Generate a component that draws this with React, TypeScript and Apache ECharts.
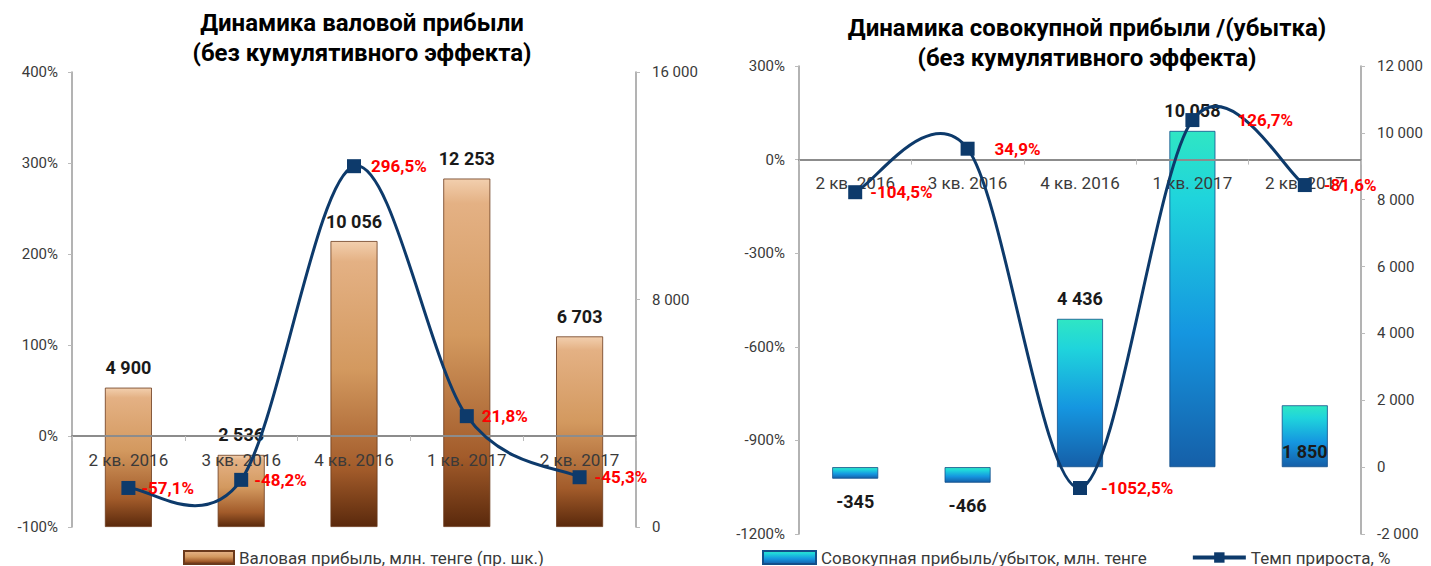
import React, { useEffect, useRef } from 'react';
import * as echarts from 'echarts';

const categories = ['2 кв. 2016', '3 кв. 2016', '4 кв. 2016', '1 кв. 2017', '2 кв. 2017'];
const grossProfit = [4900, 2536, 10056, 12253, 6703];
const grossGrowth = [-57.1, -48.2, 296.5, 21.8, -45.3];
const totalProfit = [-345, -466, 4436, 10058, 1850];
const totalGrowth = [-104.5, 34.9, -1052.5, 126.7, -81.6];
const leftTitle = ['Динамика валовой прибыли', '(без кумулятивного эффекта)'];
const rightTitle = ['Динамика совокупной прибыли /(убытка)', '(без кумулятивного эффекта)'];
const grossName = 'Валовая прибыль, млн. тенге (пр. шк.)';
const totalName = 'Совокупная прибыль/убыток, млн. тенге';
const growthName = 'Темп прироста, %';

const FONT = 'Roboto, "Noto Sans", sans-serif';
const NAVY = '#0d3a6b';
const AXIS_GRAY = '#9a9a9a';
const TEXT_GRAY = '#3a3a3a';

const LEFT_PCT = { min: -100, max: 400, interval: 100 };
const LEFT_VAL = { min: 0, max: 16000, interval: 8000 };
const RIGHT_PCT = { min: -1200, max: 300, interval: 300 };
const RIGHT_VAL = { min: -2000, max: 12000, interval: 2000 };

const GRID_L = { left: 72, top: 72, width: 564, height: 455 };
const GRID_R = { left: 799, top: 66, width: 562, height: 468 };

const fmtNum = (v: number) => {
  const s = String(Math.abs(v)).replace(/\B(?=(\d{3})+(?!\d))/g, ' ');
  return (v < 0 ? '-' : '') + s;
};
const fmtPct = (v: number) => v.toFixed(1).replace('.', ',') + '%';

const bronze = {
  type: 'linear', x: 0, y: 0, x2: 0, y2: 1,
  colorStops: [
    { offset: 0, color: '#f2cfae' },
    { offset: 0.07, color: '#e4b184' },
    { offset: 0.45, color: '#d3995f' },
    { offset: 0.8, color: '#a25b2a' },
    { offset: 1, color: '#5a290c' },
  ],
};
const teal = {
  type: 'linear', x: 0, y: 0, x2: 0, y2: 1,
  colorStops: [
    { offset: 0, color: '#2fe6c4' },
    { offset: 0.2, color: '#1fd4dc' },
    { offset: 0.6, color: '#1596e0' },
    { offset: 1, color: '#155fa8' },
  ],
};

function curveSeries(xi: number, yi: number, values: number[]) {
  const n = values.length;
  return {
    type: 'custom',
    xAxisIndex: xi,
    yAxisIndex: yi,
    z: 4,
    silent: true,
    data: values.map((v, i) => [i, v]),
    renderItem: (params: any, api: any) => {
      const i = params.dataIndex;
      if (i >= n - 1) return { type: 'group', children: [] };
      const P = (k: number) => {
        const kk = Math.max(0, Math.min(n - 1, k));
        return api.coord([kk, values[kk]]);
      };
      const p0 = P(i - 1), p1 = P(i), p2 = P(i + 1), p3 = P(i + 2);
      const t = 1 / 6;
      return {
        type: 'bezierCurve',
        shape: {
          x1: p1[0], y1: p1[1],
          x2: p2[0], y2: p2[1],
          cpx1: p1[0] + (p2[0] - p0[0]) * t,
          cpy1: p1[1] + (p2[1] - p0[1]) * t,
          cpx2: p2[0] - (p3[0] - p1[0]) * t,
          cpy2: p2[1] - (p3[1] - p1[1]) * t,
        },
        style: { stroke: NAVY, lineWidth: 3, fill: 'none' },
      };
    },
  };
}

function markerSeries(name: string, xi: number, yi: number, values: number[], distances: number[]) {
  return {
    name,
    type: 'line',
    xAxisIndex: xi,
    yAxisIndex: yi,
    z: 5,
    symbol: 'rect',
    symbolSize: 14,
    lineStyle: { opacity: 0, width: 3, color: NAVY },
    itemStyle: { color: NAVY },
    data: values.map((v, i) => ({
      value: v,
      label: { distance: distances[i] },
    })),
    label: {
      show: true,
      position: 'right',
      color: '#ff0000',
      fontWeight: 'bold',
      fontSize: 17,
      fontFamily: FONT,
      formatter: (p: any) => fmtPct(p.value),
    },
  };
}

export default function App() {
  const ref = useRef<HTMLDivElement>(null);
  useEffect(() => {
    if (!ref.current) return;
    const chart = echarts.init(ref.current, undefined, { renderer: 'svg' });

    const yLabel = { fontSize: 15, color: TEXT_GRAY, fontFamily: FONT };
    const yLine = { show: true, lineStyle: { color: AXIS_GRAY, width: 1.5 } };
    const yTick = { show: true, length: 4, lineStyle: { color: '#bbbbbb' } };

    // place the category axis on the 0 % level of the percentage axis
    const zeroOffset = (pct: { min: number; max: number }, h: number) =>
      -((0 - pct.min) / (pct.max - pct.min)) * h;

    const xAxisBase = (gridIndex: number, offset: number) => ({
      type: 'category',
      gridIndex,
      data: categories,
      position: 'bottom',
      offset,
      z: 3,
      axisLine: { onZero: false, lineStyle: { color: '#8c8c8c', width: 2 } },
      axisTick: { show: true, length: 5, lineStyle: { color: '#bbbbbb' } },
      axisLabel: { fontSize: 17, color: TEXT_GRAY, fontFamily: FONT, margin: 15 },
      splitLine: { show: false },
    });

    const barLabel = {
      show: true,
      position: 'top',
      distance: 11,
      fontSize: 18,
      fontWeight: 'bold',
      color: '#1a1a1a',
      fontFamily: FONT,
      formatter: (p: any) => fmtNum(p.value),
    };

    const titleText = (x: number, y: number, text: string) => ({
      type: 'text',
      x,
      y,
      style: {
        text,
        textAlign: 'center',
        textVerticalAlign: 'middle',
        fontSize: 24,
        fontWeight: 'bold',
        fontFamily: FONT,
        fill: '#000',
      },
    });

    chart.setOption({
      animation: false,
      backgroundColor: '#ffffff',
      graphic: [
        titleText(362, 23, leftTitle[0]),
        titleText(362, 53, leftTitle[1]),
        titleText(1087, 28, rightTitle[0]),
        titleText(1087, 58, rightTitle[1]),
      ],
      grid: [GRID_L, GRID_R],
      xAxis: [
        xAxisBase(0, zeroOffset(LEFT_PCT, GRID_L.height)),
        xAxisBase(1, zeroOffset(RIGHT_PCT, GRID_R.height)),
      ],
      yAxis: [
        {
          type: 'value', gridIndex: 0, position: 'left', ...LEFT_PCT,
          axisLine: yLine, axisTick: yTick, splitLine: { show: false },
          axisLabel: { ...yLabel, margin: 14, formatter: (v: number) => v + '%' },
        },
        {
          type: 'value', gridIndex: 0, position: 'right', ...LEFT_VAL,
          axisLine: yLine, axisTick: yTick, splitLine: { show: false },
          axisLabel: { ...yLabel, margin: 16, formatter: (v: number) => fmtNum(v) },
        },
        {
          type: 'value', gridIndex: 1, position: 'left', ...RIGHT_PCT,
          axisLine: yLine, axisTick: yTick, splitLine: { show: false },
          axisLabel: { ...yLabel, margin: 14, formatter: (v: number) => v + '%' },
        },
        {
          type: 'value', gridIndex: 1, position: 'right', ...RIGHT_VAL,
          axisLine: yLine, axisTick: yTick, splitLine: { show: false },
          axisLabel: { ...yLabel, margin: 16, formatter: (v: number) => fmtNum(v) },
        },
      ],
      legend: [
        {
          left: 183, top: 549, padding: 0, itemWidth: 50, itemHeight: 13,
          icon: 'rect', selectedMode: false,
          textStyle: { fontSize: 17, color: TEXT_GRAY, fontFamily: FONT },
          data: [grossName],
        },
        {
          left: 762, top: 549, padding: 0, itemWidth: 53, itemHeight: 13, itemGap: 44,
          selectedMode: false,
          textStyle: { fontSize: 17, color: TEXT_GRAY, fontFamily: FONT },
          data: [
            { name: totalName, icon: 'rect' },
            { name: growthName, lineStyle: { opacity: 1, width: 4, color: NAVY } },
          ],
        },
      ],
      series: [
        {
          name: grossName,
          type: 'bar',
          xAxisIndex: 0,
          yAxisIndex: 1,
          barWidth: 47,
          z: 2,
          itemStyle: { color: bronze, borderColor: '#6b3a1c', borderWidth: 0.8 },
          label: barLabel,
          data: grossProfit,
        },
        curveSeries(0, 0, grossGrowth),
        markerSeries('gross-growth', 0, 0, grossGrowth, [6, 6, 10, 8, 8]),
        {
          name: totalName,
          type: 'bar',
          xAxisIndex: 1,
          yAxisIndex: 3,
          barWidth: 46,
          z: 2,
          itemStyle: { color: teal, borderColor: '#134f8a', borderWidth: 0.8 },
          label: barLabel,
          data: totalProfit.map((v, i) => {
            if (v < 0) return { value: v, label: { position: 'bottom', distance: 14 } };
            if (i === 4) return { value: v, label: { position: 'insideBottom', distance: 7 } };
            return { value: v };
          }),
        },
        curveSeries(1, 2, totalGrowth),
        markerSeries(growthName, 1, 2, totalGrowth, [8, 20, 14, 38, 12]),
      ],
    });
    return () => chart.dispose();
  }, []);
  return (
    <div
      ref={ref}
      style={{ position: 'fixed', left: 0, top: 0, width: 1431, height: 566, background: '#fff' }}
    />
  );
}
